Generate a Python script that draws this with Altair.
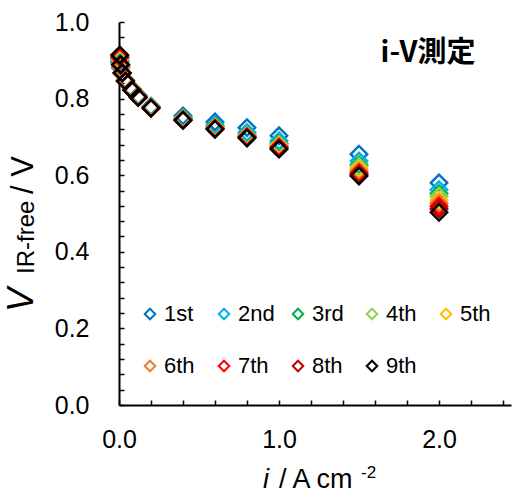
import altair as alt
import pandas as pd

# ---- data ----
series = ["1st", "2nd", "3rd", "4th", "5th", "6th", "7th", "8th", "9th"]
colors = ["#0070C0", "#00B0F0", "#00B050", "#92D050", "#FFC000",
          "#ED7D31", "#FF0000", "#C00000", "#000000"]
current = [0.005, 0.01, 0.02, 0.04, 0.08, 0.12, 0.2, 0.4, 0.6, 0.8, 1.0, 1.5, 2.0]
v_1st = [0.895, 0.880, 0.866, 0.848, 0.826, 0.808, 0.780, 0.755, 0.739, 0.724, 0.703, 0.655, 0.580]
v_2nd = [0.898, 0.882, 0.867, 0.849, 0.826, 0.807, 0.779, 0.750, 0.731, 0.712, 0.690, 0.637, 0.562]
v_3rd = [0.900, 0.883, 0.867, 0.848, 0.825, 0.806, 0.778, 0.748, 0.727, 0.706, 0.683, 0.627, 0.552]
v_4th = [0.902, 0.884, 0.867, 0.848, 0.825, 0.805, 0.777, 0.747, 0.725, 0.704, 0.680, 0.622, 0.545]
v_5th = [0.904, 0.885, 0.867, 0.847, 0.824, 0.805, 0.777, 0.746, 0.724, 0.702, 0.677, 0.616, 0.535]
v_6th = [0.906, 0.886, 0.867, 0.847, 0.824, 0.804, 0.776, 0.746, 0.723, 0.701, 0.675, 0.611, 0.527]
v_7th = [0.908, 0.887, 0.867, 0.846, 0.823, 0.804, 0.776, 0.745, 0.722, 0.700, 0.673, 0.606, 0.519]
v_8th = [0.911, 0.888, 0.867, 0.846, 0.823, 0.803, 0.775, 0.744, 0.721, 0.699, 0.671, 0.602, 0.512]
v_9th = [0.914, 0.889, 0.867, 0.845, 0.822, 0.803, 0.775, 0.743, 0.720, 0.697, 0.668, 0.598, 0.503]
all_v = [v_1st, v_2nd, v_3rd, v_4th, v_5th, v_6th, v_7th, v_8th, v_9th]

x_label_values = [0.0, 1.0, 2.0]
x_tick_values = [0.0, 0.2, 0.4, 0.6, 0.8, 1.0, 1.2, 1.4, 1.6, 1.8, 2.0, 2.2, 2.4]
y_label_values = [0.0, 0.2, 0.4, 0.6, 0.8, 1.0]
y_tick_values = [round(k * 0.04, 2) for k in range(26)]

rows = []
for k, (s, vals) in enumerate(zip(series, all_v)):
    for i, v in zip(current, vals):
        rows.append({"run": s, "i": i, "v": v, "k": k})
df = pd.DataFrame(rows)

W, H = 392, 383
FONT = "Liberation Sans"
xscale = alt.Scale(domain=[0, 2.45], nice=False, zero=False)
yscale = alt.Scale(domain=[0, 1.0], nice=False)

points = alt.Chart(df).mark_point(
    shape="diamond", filled=False, size=270, strokeWidth=2.4, opacity=1
).encode(
    x=alt.X("i:Q", scale=xscale, axis=alt.Axis(
        values=x_label_values, format=".1f", ticks=False, tickSize=0,
        domainColor="black", domainWidth=2, labelFontSize=25, labelFont=FONT,
        labelColor="black", labelPadding=22, labelFlush=False, grid=False, title=None)),
    y=alt.Y("v:Q", scale=yscale, axis=alt.Axis(
        values=y_label_values, format=".1f", ticks=False, tickSize=0,
        domainColor="black", domainWidth=2, labelFontSize=25, labelFont=FONT,
        labelColor="black", labelPadding=30, labelFlush=False, grid=False, title=None)),
    color=alt.Color("run:N", scale=alt.Scale(domain=series, range=colors),
                    legend=alt.Legend(
                        orient="none", legendX=20, legendY=281, direction="horizontal",
                        columns=5, title=None, labelFontSize=22, labelFont=FONT,
                        labelColor="black", symbolSize=110, symbolStrokeWidth=2,
                        symbolType="diamond", columnPadding=12, rowPadding=30,
                        labelOffset=3, gridAlign="all", padding=0)),
    order=alt.Order("k:Q"),
)

ticks = alt.Chart(df).mark_point(opacity=0).encode(
    x=alt.X("i:Q", scale=xscale, axis=alt.Axis(
        orient="top", offset=-H, values=x_tick_values, labels=False, domain=False,
        tickSize=5, tickWidth=1.5, tickColor="black", grid=False, title=None)),
    y=alt.Y("v:Q", scale=yscale, axis=alt.Axis(
        orient="right", offset=-W, values=y_tick_values, labels=False, domain=False,
        tickSize=5, tickWidth=1.5, tickColor="black", grid=False, title=None)),
)

one = pd.DataFrame({"a": [0]})


def txt(text, x, y, size, **kw):
    return alt.Chart(one).mark_text(text=text, fontSize=size, color="black", **kw).encode(
        x=alt.value(x), y=alt.value(y))


title_note = txt("i-V測定", 309, 31, 29, font="Noto Sans CJK JP", fontWeight="bold",
                 align="center", baseline="middle")

# y-axis title  V_IR-free / V (rotated)
y_v = txt("V", -86, 290, 36, font=FONT, fontStyle="italic", angle=270,
          align="left", baseline="alphabetic")
y_sub = txt("IR-free", -85, 252, 24, font=FONT, angle=270, align="left",
            baseline="alphabetic")
y_rest = txt("/ V", -86, 172, 31, font=FONT, angle=270, align="left",
             baseline="alphabetic")

# x-axis title  i / A cm^-2
x_i = txt("i", 144, 466, 27, font=FONT, fontStyle="italic", align="left",
          baseline="alphabetic")
x_rest = txt("/ A cm", 160, 466, 27, font=FONT, align="left", baseline="alphabetic")
x_sup = txt("-2", 242, 456, 17, font=FONT, align="left", baseline="alphabetic")

chart = alt.layer(points, ticks, title_note, y_v, y_sub, y_rest, x_i, x_rest, x_sup).resolve_axis(
    x="independent", y="independent"
).properties(
    width=W, height=H,
    autosize=alt.AutoSizeParams(type="none"),
    padding={"left": 119, "top": 22, "right": 2, "bottom": 89},
    background="white",
).configure_view(stroke=None)

chart.save("out.html", embed_options={"renderer": "svg", "actions": False})
